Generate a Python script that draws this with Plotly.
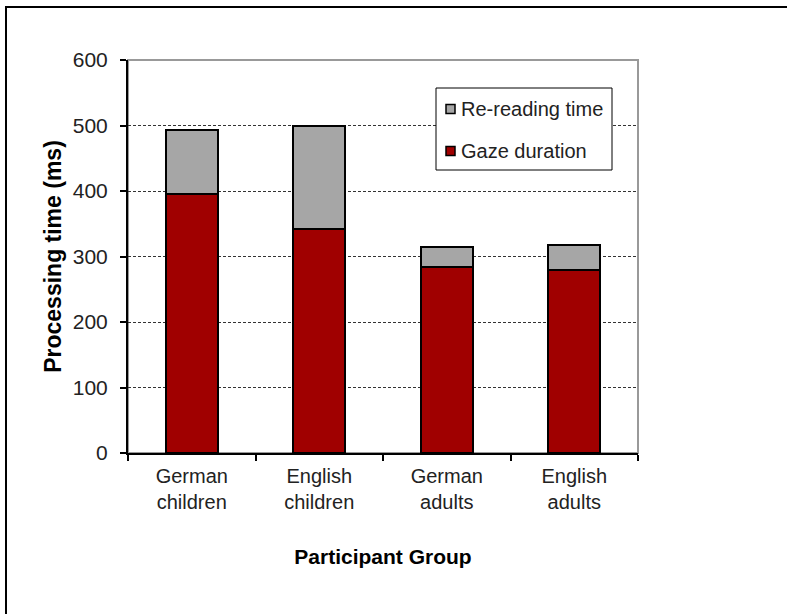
import plotly.graph_objects as go

# Reading times per participant group (ms)
groups = ["German<br>children", "English<br>children", "German<br>adults", "English<br>adults"]
gaze_duration = [396, 342, 284, 280]
rereading_time = [97, 158, 31, 37]

y_ticks = [0, 100, 200, 300, 400, 500, 600]

RED = "#A00000"
GREY = "#A6A6A6"
FONT = "Liberation Sans, Arial, sans-serif"

series = [("Gaze duration", gaze_duration, RED), ("Re-reading time", rereading_time, GREY)]

fig = go.Figure()
for name, vals, col in series:
    fig.add_trace(go.Bar(
        x=groups, y=vals, name=name, width=0.41, showlegend=False,
        marker=dict(color=col, line=dict(color="black", width=2)),
    ))

W, H = 787, 614
L, R, T, B = 128, 149, 60, 161
pw, ph = W - L - R, H - T - B

def px_x(px):
    return (px - L) / pw

def px_y(py):
    return (H - B - py) / ph

shapes = [
    # light frame around the plotting area
    dict(type="rect", xref="paper", yref="paper", x0=0, x1=1, y0=0, y1=1,
         line=dict(color="#999", width=2), layer="below"),
    # outer chart border
    dict(type="rect", xref="paper", yref="paper",
         x0=px_x(6), x1=px_x(795), y0=px_y(625), y1=px_y(7),
         line=dict(color="black", width=2), layer="above"),
    # legend box
    dict(type="rect", xref="paper", yref="paper",
         x0=px_x(436), x1=px_x(612), y0=px_y(170), y1=px_y(88),
         fillcolor="white", line=dict(color="black", width=1), layer="above"),
]
annotations = []

# legend entries, top entry is the upper stack segment
for i, (name, _, col) in enumerate(reversed(series)):
    cy = 109 + 42 * i
    shapes.append(dict(type="rect", xref="paper", yref="paper",
                       x0=px_x(446), x1=px_x(455), y0=px_y(cy + 4.5), y1=px_y(cy - 4.5),
                       fillcolor=col, line=dict(color="black", width=1.5), layer="above"))
    annotations.append(dict(xref="paper", yref="paper", x=px_x(459), y=px_y(cy),
                            xanchor="left", yanchor="middle", showarrow=False,
                            text=name, font=dict(family=FONT, size=20, color="#222")))

fig.update_layout(
    width=W, height=H,
    margin=dict(l=L, r=R, t=T, b=B),
    barmode="stack",
    plot_bgcolor="white", paper_bgcolor="white",
    font=dict(family=FONT, size=20, color="#222"),
    showlegend=False,
    xaxis=dict(
        type="category",
        showline=True, linecolor="black", linewidth=2,
        ticks="outside", ticklen=6, tickcolor="black", tickwidth=2,
        tickson="boundaries",
        ticklabelstandoff=4,
        showgrid=False,
        title=dict(text="<b>Participant Group</b>", standoff=37,
                   font=dict(family=FONT, size=21, color="black")),
        tickfont=dict(family=FONT, size=20, color="#222"),
    ),
    yaxis=dict(
        range=[0, 600],
        tickvals=y_ticks,
        showline=True, linecolor="black", linewidth=2,
        ticks="outside", ticklen=6, tickcolor="black", tickwidth=2,
        ticklabelstandoff=8,
        showgrid=True, gridcolor="#333", gridwidth=1, griddash="3px,2px",
        zeroline=False,
        title=dict(text="<b>Processing time (ms)</b>", standoff=5,
                   font=dict(family=FONT, size=23, color="black")),
        tickfont=dict(family=FONT, size=21, color="#222"),
    ),
    shapes=shapes,
    annotations=annotations,
)

fig.write_html("out.html")
